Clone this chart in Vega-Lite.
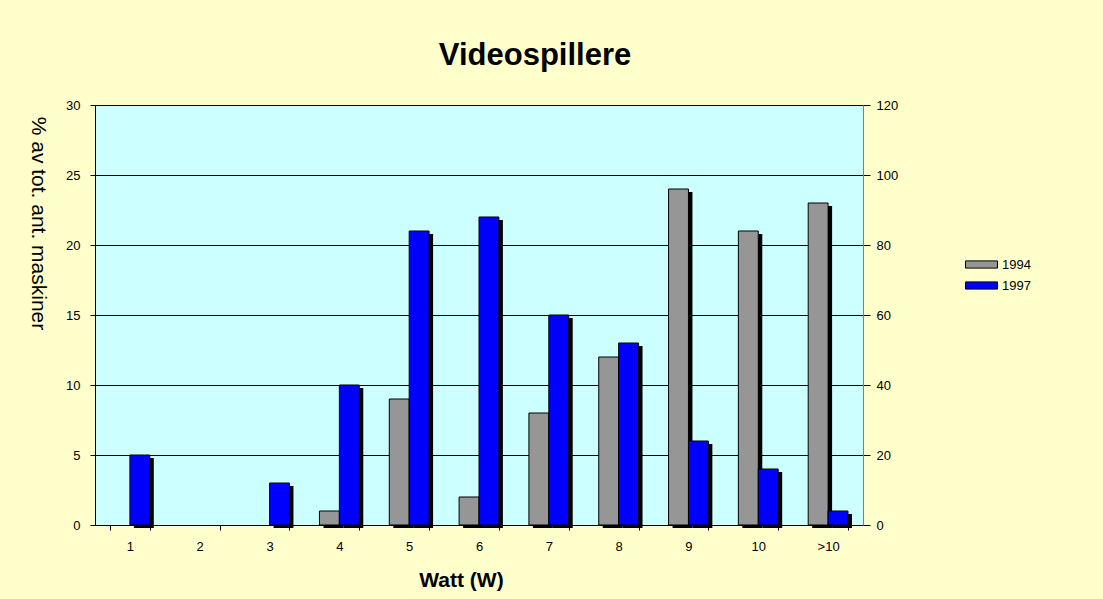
{
  "$schema": "https://vega.github.io/schema/vega-lite/v6.json",
  "width": 768,
  "height": 420,
  "autosize": "none",
  "padding": {"left": 95, "top": 105, "right": 240, "bottom": 74},
  "background": "#FFFFCC",
  "title": {
    "text": "Videospillere",
    "font": "Liberation Sans",
    "fontSize": 31,
    "fontWeight": "bold",
    "color": "#000000",
    "anchor": "middle",
    "dx": 56,
    "offset": 27
  },
  "config": {
    "font": "Liberation Sans",
    "view": {"fill": "#CCFFFF", "stroke": "#808080", "strokeWidth": 1},
    "axis": {
      "labelFont": "Liberation Sans",
      "labelFontSize": 13,
      "labelColor": "#000000",
      "tickColor": "#000000",
      "domainColor": "#000000",
      "titleFont": "Liberation Sans",
      "titleColor": "#000000"
    },
    "legend": {
      "orient": "none",
      "legendX": 878,
      "legendY": 151,
      "title": null,
      "labelFont": "Liberation Sans",
      "labelFontSize": 13,
      "labelColor": "#000000",
      "symbolType": "M-2,-0.45H2V0.45H-2Z",
      "symbolSize": 256,
      "symbolStrokeColor": "#000000",
      "symbolStrokeWidth": 1,
      "symbolOpacity": 1,
      "labelOffset": 12,
      "rowPadding": 5
    }
  },
  "data": {
    "values": [
      {"w": "1", "year": "1994", "v": 0},
      {"w": "1", "year": "1997", "v": 5},
      {"w": "2", "year": "1994", "v": 0},
      {"w": "2", "year": "1997", "v": 0},
      {"w": "3", "year": "1994", "v": 0},
      {"w": "3", "year": "1997", "v": 3},
      {"w": "4", "year": "1994", "v": 1},
      {"w": "4", "year": "1997", "v": 10},
      {"w": "5", "year": "1994", "v": 9},
      {"w": "5", "year": "1997", "v": 21},
      {"w": "6", "year": "1994", "v": 2},
      {"w": "6", "year": "1997", "v": 22},
      {"w": "7", "year": "1994", "v": 8},
      {"w": "7", "year": "1997", "v": 15},
      {"w": "8", "year": "1994", "v": 12},
      {"w": "8", "year": "1997", "v": 13},
      {"w": "9", "year": "1994", "v": 24},
      {"w": "9", "year": "1997", "v": 6},
      {"w": "10", "year": "1994", "v": 21},
      {"w": "10", "year": "1997", "v": 4},
      {"w": ">10", "year": "1994", "v": 23},
      {"w": ">10", "year": "1997", "v": 1}
    ]
  },
  "encoding": {
    "x": {
      "field": "w",
      "type": "nominal",
      "sort": ["1", "2", "3", "4", "5", "6", "7", "8", "9", "10", ">10"],
      "scale": {"paddingInner": 0.43, "paddingOuter": 0.215},
      "axis": {
        "title": "Watt (W)",
        "titleFontSize": 21,
        "titleFontWeight": "bold",
        "titlePadding": 16,
        "titleX": 366,
        "labelAngle": 0,
        "labelPadding": 10,
        "tickBand": "extent",
        "tickSize": 5,
        "domainColor": "#000000"
      }
    }
  },
  "layer": [
    {
      "transform": [{"filter": "datum.v > 0"}],
      "mark": {"type": "bar", "color": "#000000", "yOffset": 3, "y2Offset": 3},
      "encoding": {
        "xOffset": {"field": "year", "type": "nominal", "sort": ["1994", "1997"], "scale": {"range": [4, 43.8]}},
        "y": {
          "field": "v",
          "type": "quantitative",
          "scale": {"domain": [0, 30]},
          "axis": {
            "title": "% av tot. ant. maskiner",
            "titleFontSize": 21,
            "titleFontWeight": "normal",
            "titleAngle": 90,
            "titleX": -58,
            "titleY": 118,
            "titleAlign": "center",
            "titleBaseline": "middle",
            "values": [0, 5, 10, 15, 20, 25, 30],
            "grid": true,
            "gridColor": "#000000",
            "gridOpacity": 1,
            "tickSize": 5,
            "labelPadding": 10
          }
        }
      }
    },
    {
      "transform": [{"filter": "datum.v > 0"}],
      "mark": {"type": "bar", "stroke": "#000000", "strokeWidth": 1, "opacity": 1},
      "encoding": {
        "xOffset": {"field": "year", "type": "nominal", "sort": ["1994", "1997"]},
        "y": {"field": "v", "type": "quantitative", "scale": {"domain": [0, 30]}, "axis": null},
        "color": {
          "field": "year",
          "type": "nominal",
          "scale": {"domain": ["1994", "1997"], "range": ["#969696", "#0000FF"]}
        }
      }
    },
    {
      "mark": {"type": "bar", "opacity": 0},
      "encoding": {
        "xOffset": {"field": "year", "type": "nominal", "sort": ["1994", "1997"]},
        "y": {
          "field": "v",
          "type": "quantitative",
          "scale": {"domain": [0, 120]},
          "axis": {
            "orient": "right",
            "title": null,
            "values": [0, 20, 40, 60, 80, 100, 120],
            "grid": false,
            "tickSize": 7,
            "labelPadding": 6,
            "domainColor": "#808080"
          }
        }
      }
    }
  ],
  "resolve": {"scale": {"y": "independent", "xOffset": "independent"}}
}
